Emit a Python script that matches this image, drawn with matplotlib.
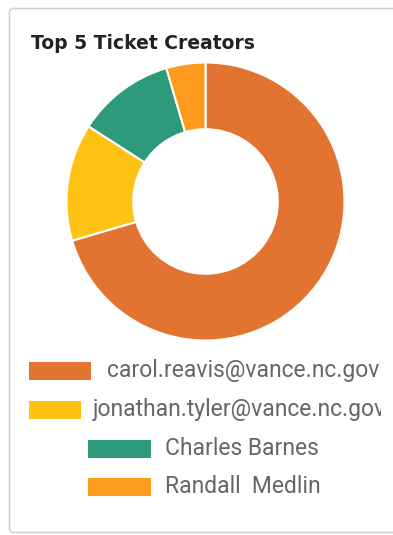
import matplotlib
matplotlib.use('Agg')
import matplotlib.pyplot as plt
from matplotlib.patches import FancyBboxPatch, Rectangle

plt.rcParams['font.family'] = ['Roboto', 'DejaVu Sans']

title = 'Top 5 Ticket Creators'
names = ['carol.reavis@vance.nc.gov', 'jonathan.tyler@vance.nc.gov',
         'Charles Barnes', 'Randall  Medlin']
counts = [31, 6, 5, 2]
colors = ['#E37330', '#FEC213', '#2E9A7C', '#FD9B1F']

W, H = 393, 535
fig = plt.figure(figsize=(W / 100, H / 100), dpi=100)

# card background
card = FancyBboxPatch((9.5 / W, 2.5 / H), 400 / W, 524 / H,
                      boxstyle='round,pad=0,rounding_size=0.01',
                      transform=fig.transFigure, facecolor='white',
                      edgecolor='#d0d0d0', linewidth=1.2, zorder=-5)
fig.patches.append(card)

fig.text(31 / W, 1 - 49 / H, title, fontsize=13.5, fontweight='bold',
         family=['DejaVu Sans'],
         color='#222222', va='baseline', ha='left')

# donut
cx, cy, r = 205.5, 201.5, 139
ax = fig.add_axes([(cx - r) / W, 1 - (cy + r) / H, 2 * r / W, 2 * r / H])
ax.pie(counts, colors=colors, startangle=90, counterclock=False,
       wedgeprops=dict(width=0.48, edgecolor='white', linewidth=1.5))
ax.set_xlim(-1, 1)
ax.set_ylim(-1, 1)
ax.set_aspect('equal')

# legend, google-charts style (long labels overflow and get clipped)
lg = fig.add_axes([0, 0, 381 / W, 1])
lg.set_xlim(0, 381)
lg.set_ylim(H, 0)
lg.axis('off')
rect_x = [29, 29, 88, 88]
rect_w = [62, 52, 63, 63]
text_x = [107, 93, 165, 165]
row_y = [371, 409.5, 448.5, 486.5]
for i, name in enumerate(names):
    lg.add_patch(Rectangle((rect_x[i], row_y[i] - 9), rect_w[i], 18,
                           facecolor=colors[i], edgecolor='none'))
    lg.text(text_x[i], row_y[i], name, fontsize=16.5,
            color='#666666', va='center', ha='left', clip_on=True)

fig.savefig('out.png', dpi=100)
